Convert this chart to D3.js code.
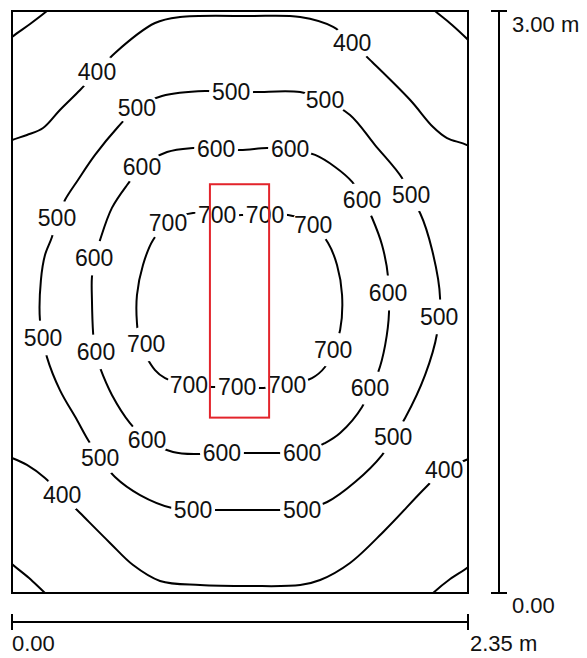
<!DOCTYPE html>
<html>
<head>
<meta charset="utf-8">
<script src="https://cdn.jsdelivr.net/npm/d3@7"></script>
<style>
  html, body { margin: 0; padding: 0; background: #fff; }
  svg { display: block; font-family: "Liberation Sans", Arial, sans-serif; }
</style>
</head>
<body>
<svg id="chart" width="587" height="658"></svg>
<script>
// Room size in metres
const roomWidth = 2.35;
const roomDepth = 3.00;

// Luminaire footprint in metres [x0, y0, x1, y1]
const luminaire = [1.02, 0.904, 1.325, 2.107];

// Scale-bar captions
const widthTicks = ["0.00", "2.35 m"];
const depthTicks = ["0.00", "3.00 m"];

// Isolux levels (lx)
const levels = [300, 400, 500, 600, 700];

// Isolux lines, room coordinates in metres (closed loops, parts may lie outside the room)
const contour300 = [
  [-0.062, 2.809], [0, 2.866], [0.093, 2.933], [0.180, 3.000], [0.258, 3.067],
  [1.175, 3.361], [2.103, 3.067], [2.180, 3.000], [2.268, 2.928], [2.351, 2.851],
  [2.418, 2.784], [2.722, 1.510], [2.418, 0.196], [2.351, 0.134], [2.258, 0.072],
  [2.170, 0], [2.103, -0.067], [1.175, -0.345], [0.247, -0.067], [0.170, 0],
  [0.088, 0.077], [0, 0.149], [-0.062, 0.206], [-0.371, 1.510]
];
const contour400 = [
  [-0.191, 1.510], [-0.062, 2.304], [0, 2.335], [0.077, 2.361], [0.160, 2.397],
  [0.247, 2.490], [0.351, 2.593], [0.438, 2.686], [0.531, 2.784], [0.737, 2.938],
  [0.866, 2.969], [1.227, 2.974], [1.485, 2.969], [1.655, 2.918], [1.753, 2.835],
  [1.856, 2.737], [2.052, 2.541], [2.170, 2.402], [2.242, 2.345], [2.345, 2.309],
  [2.464, 2.232], [2.567, 1.510], [2.440, 0.760], [2.227, 0.634], [2.129, 0.541],
  [1.923, 0.325], [1.742, 0.155], [1.588, 0.067], [1.485, 0.041], [1.227, 0.036],
  [0.969, 0.041], [0.763, 0.062], [0.624, 0.144], [0.505, 0.258], [0.351, 0.412],
  [0.258, 0.505], [0.170, 0.593], [0.077, 0.660], [0, 0.696], [-0.113, 0.737]
];
const contour500 = [
  [0.546, 2.402], [0.644, 2.500], [0.773, 2.562], [0.995, 2.588], [1.124, 2.582],
  [1.253, 2.582], [1.485, 2.582], [1.613, 2.541], [1.742, 2.464], [1.871, 2.309],
  [2.010, 2.139], [2.052, 2.041], [2.103, 1.959], [2.165, 1.768], [2.206, 1.521],
  [2.196, 1.423], [2.191, 1.340], [2.129, 1.124], [2.026, 0.902], [1.964, 0.804],
  [1.907, 0.711], [1.768, 0.572], [1.624, 0.469], [1.495, 0.428], [1.381, 0.428],
  [1.062, 0.428], [0.933, 0.428], [0.825, 0.438], [0.660, 0.505], [0.531, 0.598],
  [0.454, 0.696], [0.392, 0.789], [0.335, 0.892], [0.247, 1.046], [0.180, 1.216],
  [0.160, 1.314], [0.144, 1.407], [0.149, 1.613], [0.170, 1.742], [0.206, 1.835],
  [0.232, 1.933], [0.273, 2.026], [0.340, 2.129], [0.428, 2.258]
];
const contour600 = [
  [0.799, 2.273], [0.933, 2.294], [1.057, 2.294], [1.175, 2.284], [1.314, 2.294],
  [1.433, 2.289], [1.562, 2.258], [1.665, 2.196], [1.753, 2.119], [1.809, 2.031],
  [1.856, 1.933], [1.907, 1.794], [1.938, 1.629], [1.938, 1.546], [1.943, 1.448],
  [1.923, 1.278], [1.887, 1.139], [1.845, 1.057], [1.804, 0.959], [1.691, 0.825],
  [1.613, 0.773], [1.495, 0.722], [1.371, 0.722], [1.211, 0.722], [1.082, 0.722],
  [0.954, 0.716], [0.830, 0.727], [0.696, 0.789], [0.608, 0.876], [0.515, 1.021],
  [0.454, 1.160], [0.428, 1.242], [0.418, 1.340], [0.412, 1.510], [0.412, 1.629],
  [0.428, 1.727], [0.454, 1.820], [0.515, 1.985], [0.593, 2.103], [0.670, 2.196]
];
const contour700 = [
  [0.804, 1.907], [0.727, 1.820], [0.675, 1.691], [0.644, 1.536], [0.644, 1.392],
  [0.660, 1.289], [0.737, 1.149], [0.789, 1.108], [0.907, 1.072], [1.031, 1.062],
  [1.160, 1.062], [1.294, 1.057], [1.418, 1.072], [1.546, 1.108], [1.613, 1.165],
  [1.655, 1.253], [1.691, 1.356], [1.701, 1.536], [1.675, 1.691], [1.629, 1.804],
  [1.552, 1.897], [1.423, 1.948], [1.289, 1.938], [1.186, 1.948], [1.057, 1.938],
  [0.933, 1.959]
];

// Label anchor points on each isolux line (metres)
const labels400 = [[0.438, 2.686], [1.753, 2.835], [2.227, 0.634], [0.258, 0.505]];
const labels500 = [
  [0.644, 2.500], [1.129, 2.582], [1.613, 2.541], [2.057, 2.052], [2.201, 1.423],
  [1.964, 0.804], [1.495, 0.428], [0.933, 0.428], [0.454, 0.696], [0.160, 1.314],
  [0.232, 1.933]
];
const labels600 = [
  [0.670, 2.196], [1.052, 2.289], [1.433, 2.289], [1.804, 2.026], [1.938, 1.546],
  [1.845, 1.057], [1.495, 0.722], [1.082, 0.722], [0.696, 0.789], [0.433, 1.242],
  [0.423, 1.727]
];
const labels700 = [
  [0.804, 1.907], [1.057, 1.948], [1.304, 1.948], [1.552, 1.897], [1.655, 1.253],
  [1.418, 1.072], [1.160, 1.062], [0.912, 1.072], [0.691, 1.284]
];

const contours = [contour300, contour400, contour500, contour600, contour700];
const labelSets = [[], labels400, labels500, labels600, labels700];

// ---- layout ----
const plot = { left: 12, top: 11, right: 468, bottom: 593 };
const fontSize = 23;
const captionSize = 22;

const x = d3.scaleLinear().domain([0, roomWidth]).range([plot.left, plot.right]);
const y = d3.scaleLinear().domain([0, roomDepth]).range([plot.bottom, plot.top]);

const svg = d3.select("#chart");
const defs = svg.append("defs");

defs.append("clipPath").attr("id", "room-clip")
  .append("rect")
  .attr("x", x(0)).attr("y", y(roomDepth))
  .attr("width", x(roomWidth) - x(0)).attr("height", y(0) - y(roomDepth));

// mask that opens a gap in each line where its label sits
const mask = defs.append("mask").attr("id", "label-gaps")
  .attr("maskUnits", "userSpaceOnUse")
  .attr("x", 0).attr("y", 0).attr("width", 587).attr("height", 658);
mask.append("rect").attr("width", 587).attr("height", 658).attr("fill", "#fff");

const allLabels = [];
labelSets.forEach((set, i) => set.forEach(p => allLabels.push({ level: levels[i], x: p[0], y: p[1] })));

mask.selectAll("ellipse").data(allLabels).join("ellipse")
  .attr("cx", d => x(d.x)).attr("cy", d => y(d.y))
  .attr("rx", 22).attr("ry", 17.5)
  .attr("fill", "#000");

const line = d3.line()
  .x(d => x(d[0])).y(d => y(d[1]))
  .curve(d3.curveCatmullRomClosed.alpha(0.5));

svg.append("g")
  .attr("clip-path", "url(#room-clip)")
  .append("g")
  .attr("mask", "url(#label-gaps)")
  .selectAll("path").data(contours).join("path")
  .attr("d", line)
  .attr("fill", "none")
  .attr("stroke", "#000")
  .attr("stroke-width", 2)
  .attr("stroke-linejoin", "round");

// isolux values
svg.append("g")
  .selectAll("text").data(allLabels).join("text")
  .attr("x", d => x(d.x))
  .attr("y", d => y(d.y) + fontSize * 0.36)
  .attr("text-anchor", "middle")
  .attr("font-size", fontSize)
  .attr("fill", "#111")
  .text(d => d.level);

// room outline
svg.append("rect")
  .attr("x", x(0)).attr("y", y(roomDepth))
  .attr("width", x(roomWidth) - x(0)).attr("height", y(0) - y(roomDepth))
  .attr("fill", "none").attr("stroke", "#000").attr("stroke-width", 2);

// luminaire
svg.append("rect")
  .attr("x", x(luminaire[0])).attr("y", y(luminaire[3]))
  .attr("width", x(luminaire[2]) - x(luminaire[0]))
  .attr("height", y(luminaire[1]) - y(luminaire[3]))
  .attr("fill", "none").attr("stroke", "#e3242b").attr("stroke-width", 2);

// ---- scale bars ----
const bars = svg.append("g").attr("stroke", "#000").attr("stroke-width", 2).attr("fill", "none");
const vx = x(roomWidth) + 31;
const hy = y(0) + 29;
const cap = 8;

bars.append("line").attr("x1", vx).attr("x2", vx).attr("y1", y(0)).attr("y2", y(roomDepth));
bars.append("line").attr("x1", vx - cap).attr("x2", vx + cap).attr("y1", y(0)).attr("y2", y(0));
bars.append("line").attr("x1", vx - cap).attr("x2", vx + cap).attr("y1", y(roomDepth)).attr("y2", y(roomDepth));

bars.append("line").attr("x1", x(0)).attr("x2", x(roomWidth)).attr("y1", hy).attr("y2", hy);
bars.append("line").attr("x1", x(0)).attr("x2", x(0)).attr("y1", hy - cap).attr("y2", hy + cap);
bars.append("line").attr("x1", x(roomWidth)).attr("x2", x(roomWidth)).attr("y1", hy - cap).attr("y2", hy + cap);

const captions = svg.append("g").attr("font-size", captionSize).attr("fill", "#111");
captions.append("text").attr("x", vx + 13).attr("y", y(roomDepth) + 21).text(depthTicks[1]);
captions.append("text").attr("x", vx + 13).attr("y", y(0) + 20).text(depthTicks[0]);
captions.append("text").attr("x", x(0)).attr("y", hy + 29).text(widthTicks[0]);
captions.append("text").attr("x", x(roomWidth) + 2).attr("y", hy + 29).text(widthTicks[1]);
</script>
</body>
</html>
